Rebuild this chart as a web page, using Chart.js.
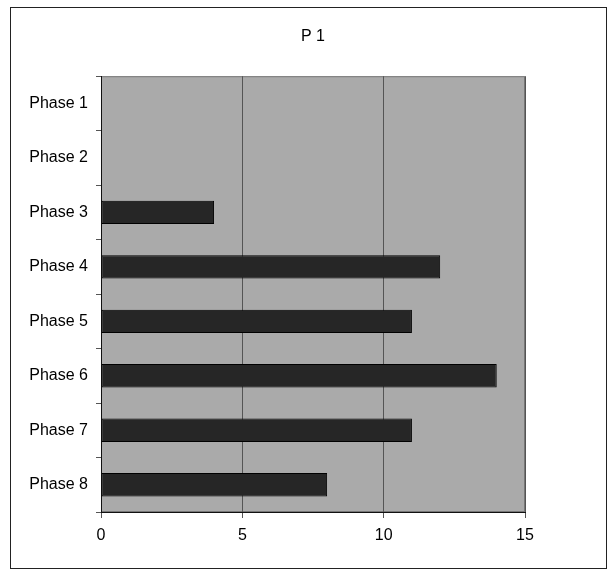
<!DOCTYPE html>
<html>
<head>
<meta charset="utf-8">
<script src="https://cdn.jsdelivr.net/npm/chart.js@4/dist/chart.umd.min.js"></script>
<style>
  html, body { margin: 0; padding: 0; background: #fff; }
  #frame { position: absolute; left: 10px; top: 7px; width: 595px; height: 560px; border: 1px solid #222; }
  #wrap { position: absolute; left: 0; top: 0; width: 615px; height: 569px; }
</style>
</head>
<body>
<div id="frame"></div>
<div id="wrap"><canvas id="chart" width="615" height="569"></canvas></div>
<script>
var categories = ['Phase 1', 'Phase 2', 'Phase 3', 'Phase 4', 'Phase 5', 'Phase 6', 'Phase 7', 'Phase 8'];
var values = [0, 0, 4, 12, 11, 14, 11, 8];
var x_ticks = [0, 5, 10, 15];
var chart_title = 'P 1';

// gray plot area with thin border
const plotBack = {
    id: 'plotBack',
    beforeDraw(chart) {
        const a = chart.chartArea;
        const ctx = chart.ctx;
        ctx.save();
        ctx.fillStyle = '#aaaaaa';
        ctx.fillRect(a.left, a.top, a.right - a.left, a.bottom - a.top);
        ctx.strokeStyle = '#777';
        ctx.lineWidth = 1;
        ctx.strokeRect(a.left + 0.5, a.top + 0.5, a.right - a.left - 1, a.bottom - a.top - 1);
        ctx.restore();
    }
};

function draw_chart() {
    var ctx = document.getElementById('chart').getContext('2d');
    new Chart(ctx, {
        type: 'bar',
        data: {
            labels: categories,
            datasets: [{
                data: values,
                backgroundColor: '#262626',
                borderColor: '#000',
                borderWidth: 1,
                borderSkipped: false,
                barPercentage: 0.43,
                categoryPercentage: 1
            }]
        },
        options: {
            indexAxis: 'y',
            responsive: false,
            animation: false,
            layout: { padding: { left: 11, right: 0, top: 0, bottom: 0 } },
            plugins: {
                legend: { display: false },
                tooltip: { enabled: false },
                title: {
                    display: true,
                    text: chart_title,
                    color: '#000',
                    font: { family: 'Liberation Sans, Arial', size: 16, weight: 'normal' },
                    padding: { top: 27, bottom: 30 }
                }
            },
            scales: {
                x: {
                    min: 0,
                    max: 15,
                    afterBuildTicks: function (scale) {
                        scale.ticks = x_ticks.map(v => ({ value: v }));
                    },
                    afterFit: function (scale) { scale.height = 57; },
                    ticks: {
                        color: '#000',
                        padding: 8,
                        font: { family: 'Liberation Sans, Arial', size: 16 }
                    },
                    grid: {
                        color: '#555',
                        lineWidth: 1,
                        tickLength: 6
                    },
                    border: { color: '#111', width: 1 }
                },
                y: {
                    afterFit: function (scale) { scale.width = 90; },
                    ticks: {
                        color: '#000',
                        padding: 8,
                        font: { family: 'Liberation Sans, Arial', size: 16 }
                    },
                    grid: {
                        offset: true,
                        drawOnChartArea: false,
                        drawTicks: true,
                        tickLength: 5,
                        color: '#555'
                    },
                    border: { color: '#111', width: 1 }
                },
                // empty right-hand spacer so the title centres on the whole frame
                yRight: {
                    type: 'linear',
                    position: 'right',
                    afterFit: function (scale) { scale.width = 90; },
                    ticks: { display: false },
                    grid: { display: false },
                    border: { display: false }
                }
            }
        },
        plugins: [plotBack]
    });
}

draw_chart();
</script>
</body>
</html>
